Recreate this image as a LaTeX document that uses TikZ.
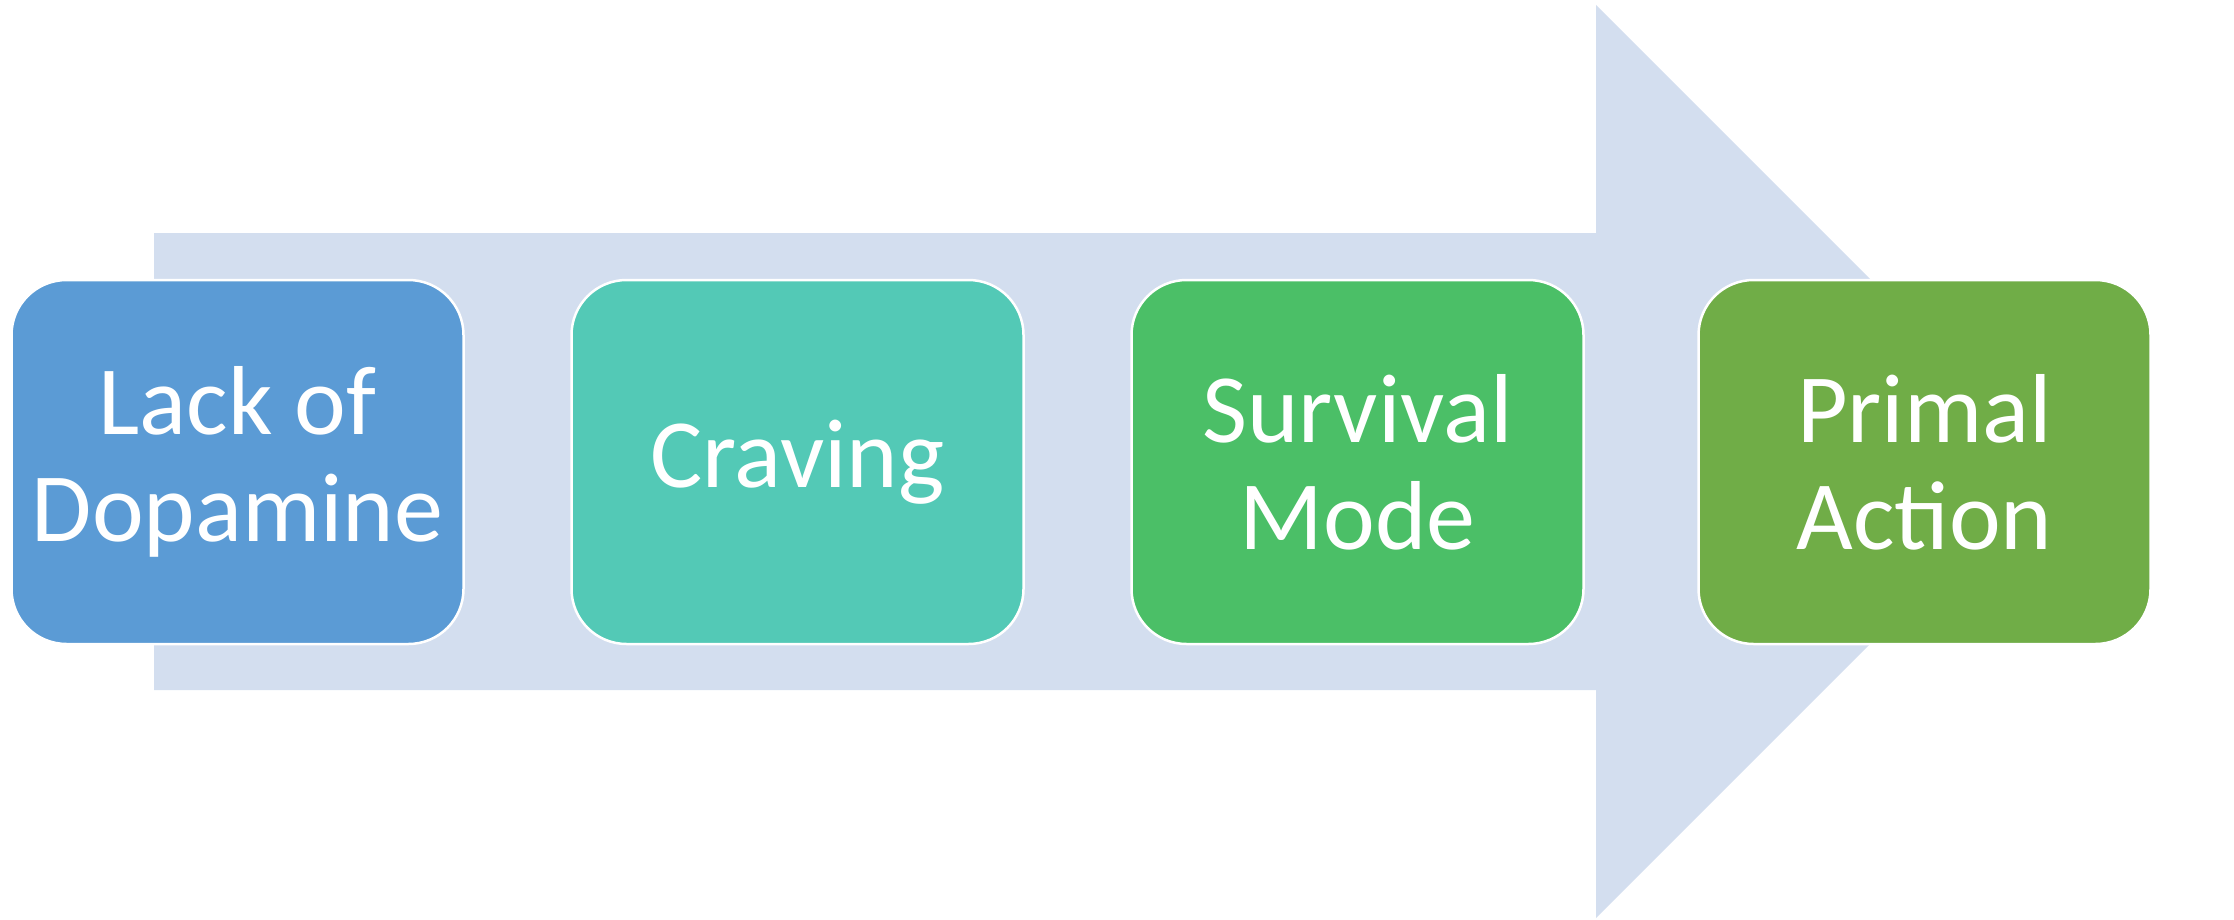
\documentclass[tikz,border=0pt]{standalone}
\usepackage{fontspec}
\setmainfont{Carlito}
\definecolor{arrowc}{HTML}{D3DEEF}
\definecolor{cone}{HTML}{5B9BD5}
\definecolor{ctwo}{HTML}{53C9B6}
\definecolor{cthree}{HTML}{4BBF67}
\definecolor{cfour}{HTML}{70AD47}
\tikzset{
  stepbox/.style={rectangle, rounded corners=55pt, minimum width=452pt, minimum height=364pt,
    draw=white, line width=2.5pt, text=white, align=center, inner sep=0pt,
    font=\fontsize{98}{107}\selectfont}
}
\begin{document}
\begin{tikzpicture}[x=1pt,y=-1pt]
\useasboundingbox (0,0) rectangle (2234,920);
\fill[arrowc] (154,233) -- (1596,233) -- (1596,5) -- (2052.5,461.5) -- (1596,918) -- (1596,690) -- (154,690) -- cycle;
\node[stepbox, fill=cone] (b1) at (237.5,462) {Lack of\\Dopamine};
\node[stepbox, fill=ctwo] (b2) at (797.5,462) {Craving};
\node[stepbox, fill=cthree] (b3) at (1357.5,462) {Survival\\Mode};
\node[stepbox, fill=cfour] (b4) at (1924.5,462) {Primal\\Action};
\end{tikzpicture}
\end{document}
